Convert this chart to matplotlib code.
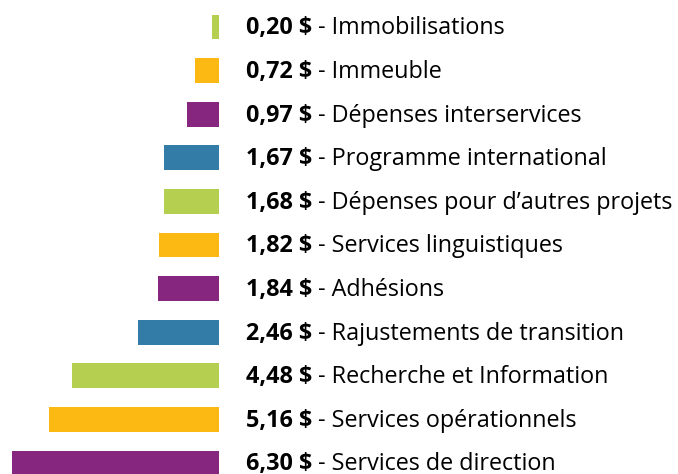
import matplotlib
matplotlib.use("Agg")
import matplotlib.pyplot as plt

amounts = [0.20, 0.72, 0.97, 1.67, 1.68, 1.82, 1.84, 2.46, 4.48, 5.16, 6.30]
amount_labels = ["0,20 $", "0,72 $", "0,97 $", "1,67 $", "1,68 $", "1,82 $",
                 "1,84 $", "2,46 $", "4,48 $", "5,16 $", "6,30 $"]
categories = ["Immobilisations", "Immeuble", "Dépenses interservices",
              "Programme international", "Dépenses pour d\u2019autres projets",
              "Services linguistiques", "Adhésions", "Rajustements de transition",
              "Recherche et Information", "Services opérationnels",
              "Services de direction"]

green, orange, purple, blue = "#b5cf51", "#fdb913", "#86267e", "#337ca8"
colors = [green, orange, purple, blue] * 3

plt.rcParams['font.family'] = ['Open Sans', 'DejaVu Sans']

fig = plt.figure(figsize=(6.78, 4.74), dpi=100)
ax = fig.add_axes([0, 0, 1, 1])
ax.axis("off")

rows = list(range(len(amounts)))
ax.barh(rows, [-a for a in amounts], height=0.57, color=colors[:len(amounts)])

px_per_unit = 32.9
ax.set_xlim(-219 / px_per_unit, (678 - 219) / px_per_unit)
ax.set_ylim((474 - 27) / 43.6, -27 / 43.6)

fig.canvas.draw()
renderer = fig.canvas.get_renderer()
for i, (amt, cat) in enumerate(zip(amount_labels, categories)):
    t = ax.annotate(amt, xy=(0, i), xytext=(27 * 0.72, -1), textcoords="offset points",
                    va="center", ha="left", fontsize=16.8, fontweight="bold")
    w = t.get_window_extent(renderer).width
    ax.annotate(" - " + cat, xy=(0, i), xytext=(27 * 0.72 + w * 0.72, -1),
                textcoords="offset points", va="center", ha="left", fontsize=16.8)

fig.savefig("out.png", dpi=100)
